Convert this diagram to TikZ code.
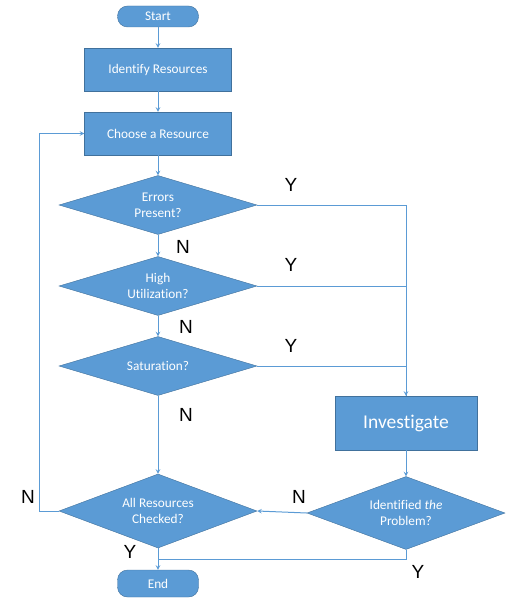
\documentclass[tikz,border=0pt]{standalone}
\usepackage{xcolor}
\usepackage{fontspec}
\usepackage{tikz}
\usetikzlibrary{shapes.geometric}
\setmainfont[Ligatures=NoCommon]{Carlito}
\newfontfamily\ynfont{Liberation Sans}
\definecolor{officeBlue}{RGB}{91, 155, 213}
\definecolor{officeEdge}{RGB}{65, 113, 156}

\begin{document}
\begin{tikzpicture}[x=1pt, y=-1pt, node distance=70pt]
    % Define styles
    \tikzstyle{terminal} = [rectangle, draw=officeEdge, fill=officeBlue, text=white, rounded corners=10pt, minimum width=81pt, minimum height=21pt, inner sep=0pt, font=\fontsize{13.3}{16}\selectfont]
    \tikzstyle{process} = [rectangle, draw=officeEdge, fill=officeBlue, text=white, minimum width=147pt, minimum height=43pt, inner sep=0pt, font=\fontsize{13.3}{16}\selectfont]
    \tikzstyle{decision} = [diamond, draw=officeEdge, fill=officeBlue, text=white, aspect=3.4, minimum width=198pt, minimum height=59pt, inner sep=0pt, align=center, font=\fontsize{13.3}{16}\selectfont]
    \tikzstyle{answer} = [font=\ynfont\fontsize{19}{19}\selectfont, inner sep=0pt]
    \tikzstyle{arrow} = [draw=officeBlue, line width=1pt, ->, >=stealth]
    \tikzstyle{line} = [draw=officeBlue, line width=1pt]

    \useasboundingbox (0,0) rectangle (517,602);

    % Main column
    \node [terminal] (start) at (158,16.5) {Start};
    \node [process, below of=start, yshift=17pt] (identify) {Identify Resources};
    \node [process, below of=identify, yshift=6pt] (choose) {Choose a Resource};
    \node [decision, below of=choose, yshift=-1.5pt] (errors) {Errors\\Present?};
    \node [decision, below of=errors, yshift=-11pt] (highutil) {High\\Utilization?};
    \node [decision, below of=highutil, yshift=-10pt] (saturation) {Saturation?};
    \node [decision, below of=saturation, yshift=-75pt, minimum height=74pt] (allchecked) {All Resources\\Checked?};
    \node [terminal, below of=allchecked, yshift=-2.5pt, minimum height=27pt] (end) {End};

    % Right column
    \node [process, right of=saturation, xshift=178pt, yshift=-57pt, minimum width=142pt, minimum height=54pt, font=\fontsize{19.5}{22}\selectfont] (investigate) {Investigate};
    \node [decision, below of=investigate, yshift=-20pt, minimum height=73pt] (identified) {Identified \textit{the}\\Problem?};

    % Labels
    \node [answer] (yerrors) at (291,185) {Y};
    \node [answer] (yhigh) at (291,265) {Y};
    \node [answer] (ysat) at (291,346) {Y};
    \node [answer] (nerrors) at (183,247) {N};
    \node [answer] (nhigh) at (186,327) {N};
    \node [answer] (nsat) at (186,415) {N};
    \node [answer] (nall) at (28,497) {N};
    \node [answer] (nidentified) at (299,497) {N};
    \node [answer] (yall) at (130,552) {Y};
    \node [answer] (yidentified) at (418,572) {Y};

    % Arrows
    \draw [arrow] (start) -- (identify);
    \draw [arrow] (identify) -- (choose);
    \draw [arrow] (choose) -- (errors);
    \draw [arrow] (errors) -- (highutil);
    \draw [arrow] (highutil) -- (saturation);
    \draw [arrow] (saturation) -- (allchecked);
    \draw [arrow] (errors.east) -| (investigate.north);
    \draw [line] (highutil.east) -| (investigate.north);
    \draw [line] (saturation.east) -| (investigate.north);
    \draw [arrow] (investigate) -- (identified);
    \draw [arrow] (identified.west) -- (allchecked.east);
    \draw [arrow] (allchecked.west) -- ++(-19,0) |- (choose.west);
    \draw [arrow] (allchecked) -- (end);
    \path (allchecked.south) -- (end.north) coordinate [midway] (join);
    \draw [line] (identified.south) |- (join);
\end{tikzpicture}
\end{document}
